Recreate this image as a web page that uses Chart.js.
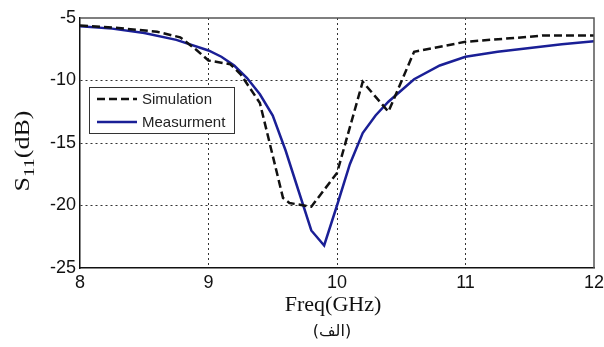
<!DOCTYPE html>
<html>
<head>
<meta charset="utf-8">
<script src="https://cdn.jsdelivr.net/npm/chart.js@4"></script>
<style>
  html, body { margin: 0; padding: 0; background: #fff; }
  #wrap { width: 604px; height: 347px; }
</style>
</head>
<body>
<div id="wrap"><canvas id="s11Chart" width="604" height="347"></canvas></div>
<script>
// Simulation (dashed black)
const freqSim = [8.0, 8.3, 8.6, 8.78, 8.9, 9.0, 9.17, 9.25, 9.4, 9.58, 9.63, 9.8, 10.0, 10.2, 10.4, 10.6, 11.0, 11.5, 11.6, 12.0];
const s11Sim = [-5.6, -5.8, -6.1, -6.55, -7.5, -8.4, -8.7, -9.5, -11.8, -19.4, -19.8, -20.1, -17.4, -10.1, -12.5, -7.7, -6.9, -6.5, -6.4, -6.4];

// Measurement (solid blue)
const freqMeas = [8.0, 8.25, 8.5, 8.75, 9.0, 9.1, 9.2, 9.3, 9.4, 9.5, 9.6, 9.7, 9.8, 9.9, 10.0, 10.1, 10.2, 10.3, 10.4, 10.5, 10.6, 10.8, 11.0, 11.25, 11.5, 11.75, 12.0];
const s11Meas = [-5.65, -5.85, -6.2, -6.75, -7.6, -8.1, -8.8, -9.8, -11.1, -12.8, -15.6, -18.8, -22.0, -23.2, -20.0, -16.7, -14.2, -12.8, -11.7, -10.8, -9.9, -8.8, -8.1, -7.7, -7.4, -7.1, -6.85];

const seriesLabels = ['Simulation', 'Measurment'];
const xTicks = [8, 9, 10, 11, 12];
const yTicks = [-25, -20, -15, -10, -5];

const toPoints = (xs, ys) => xs.map((x, i) => ({ x: x, y: ys[i] }));

// box, legend and axis titles drawn on top of the chart
const decorations = {
  id: 'decorations',
  afterDraw(chart) {
    const ctx = chart.ctx;
    const a = chart.chartArea;
    ctx.save();

    // top and right edges of the axes box
    ctx.strokeStyle = '#555';
    ctx.lineWidth = 1.5;
    ctx.beginPath();
    ctx.moveTo(a.left, a.top);
    ctx.lineTo(a.right, a.top);
    ctx.lineTo(a.right, a.bottom);
    ctx.stroke();

    // legend box
    const lx = 89, ly = 87, lw = 145, lh = 46;
    ctx.fillStyle = '#fff';
    ctx.fillRect(lx, ly, lw, lh);
    ctx.strokeStyle = '#333';
    ctx.lineWidth = 1;
    ctx.strokeRect(lx + 0.5, ly + 0.5, lw, lh);
    chart.data.datasets.forEach((ds, i) => {
      const yy = ly + 12 + i * 23;
      ctx.strokeStyle = ds.borderColor;
      ctx.lineWidth = ds.borderWidth;
      ctx.setLineDash(ds.borderDash || []);
      ctx.beginPath();
      ctx.moveTo(lx + 8, yy);
      ctx.lineTo(lx + 48, yy);
      ctx.stroke();
      ctx.setLineDash([]);
      ctx.fillStyle = '#222';
      ctx.font = '15px "Liberation Sans", Arial, sans-serif';
      ctx.textAlign = 'left';
      ctx.textBaseline = 'middle';
      ctx.fillText(ds.label, lx + 53, yy + 1);
    });

    // x axis title and the caption under it
    ctx.fillStyle = '#111';
    ctx.textAlign = 'center';
    ctx.textBaseline = 'alphabetic';
    ctx.font = '22px "Liberation Serif", "Times New Roman", serif';
    ctx.fillText('Freq(GHz)', 333, 311);
    ctx.font = '16px "DejaVu Sans", sans-serif';
    ctx.fillText('(الف)', 332, 336);

    // y axis title S11(dB), subscript, stretched along the text like the original
    ctx.translate(29, 151);
    ctx.rotate(-Math.PI / 2);
    ctx.scale(1.3, 1);
    const big = '20px "Liberation Serif", "Times New Roman", serif';
    const small = '15px "Liberation Serif", "Times New Roman", serif';
    ctx.font = big;
    const wS = ctx.measureText('S').width;
    const wRest = ctx.measureText('(dB)').width;
    ctx.font = small;
    const wSub = ctx.measureText('11').width;
    let x0 = -(wS + wSub + wRest) / 2;
    ctx.textAlign = 'left';
    ctx.font = big;
    ctx.fillText('S', x0, 0);
    ctx.font = small;
    ctx.fillText('11', x0 + wS, 5);
    ctx.font = big;
    ctx.fillText('(dB)', x0 + wS + wSub, 0);

    ctx.restore();
  }
};

const gridColor = (edgeValues) => (c) =>
  (c.tick && edgeValues.includes(c.tick.value)) ? 'rgba(0,0,0,0)' : '#333';

const tickFont = { family: '"Liberation Sans", Arial, sans-serif', size: 18 };

new Chart(document.getElementById('s11Chart').getContext('2d'), {
  type: 'line',
  data: {
    datasets: [
      {
        label: seriesLabels[0],
        data: toPoints(freqSim, s11Sim),
        borderColor: '#111',
        borderWidth: 2.5,
        borderDash: [8, 4],
        pointRadius: 0,
        tension: 0,
        fill: false
      },
      {
        label: seriesLabels[1],
        data: toPoints(freqMeas, s11Meas),
        borderColor: '#1a1f96',
        borderWidth: 2.5,
        pointRadius: 0,
        tension: 0,
        fill: false
      }
    ]
  },
  options: {
    responsive: false,
    animation: false,
    layout: { padding: { top: 18, right: 0, left: 0, bottom: 0 } },
    plugins: {
      legend: { display: false },
      tooltip: { enabled: false }
    },
    scales: {
      x: {
        type: 'linear',
        min: 8,
        max: 12,
        afterFit: (s) => { s.height = 79; s.paddingRight = 10; s.paddingLeft = 0; },
        afterBuildTicks: (s) => { s.ticks = xTicks.map(v => ({ value: v })); },
        ticks: { color: '#111', font: tickFont, padding: 4 },
        grid: { color: gridColor([8, 12]), lineWidth: 1, drawTicks: false },
        border: { display: true, color: '#111', width: 1.5, dash: [2, 3] }
      },
      y: {
        type: 'linear',
        min: -25,
        max: -5,
        afterFit: (s) => { s.width = 80; },
        afterBuildTicks: (s) => { s.ticks = yTicks.map(v => ({ value: v })); },
        ticks: { color: '#111', font: tickFont, padding: 4 },
        grid: { color: gridColor([-25, -5]), lineWidth: 1, drawTicks: false },
        border: { display: true, color: '#111', width: 1.5, dash: [2, 3] }
      }
    }
  },
  plugins: [decorations]
});
</script>
</body>
</html>
